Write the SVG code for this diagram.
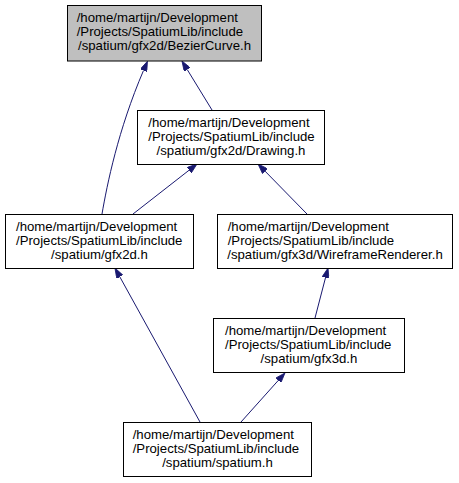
<svg xmlns="http://www.w3.org/2000/svg" width="459" height="483" viewBox="0 0 459 483">
<style>
.node rect{fill:#ffffff;stroke:#000000;stroke-width:1}
#bezier rect{fill:#bfbfbf}
text{font-family:"Liberation Sans",Arial,Helvetica,sans-serif;font-size:13.2px;fill:#000000}
.c{text-anchor:middle}
.edge{fill:none;stroke:#191970;stroke-width:1;marker-end:url(#arr)}
</style>
<defs>
<marker id="arr" viewBox="0 0 10 7" refX="0" refY="3.5" markerWidth="10" markerHeight="7" markerUnits="userSpaceOnUse" orient="auto">
<path d="M0,0 L10,3.5 L0,7 Z" fill="#191970" stroke="#191970" stroke-width="0.8"/>
</marker>
</defs>
<rect width="459" height="483" fill="#ffffff"/>
<g id="connectors">
<path class="edge" d="M102,214 C107,185 118,130 143.5,70.5"/>
<path class="edge" d="M212,110 L187.2,69.5"/>
<path class="edge" d="M133,214 L189.1,170.2"/>
<path class="edge" d="M307,214 L265,171.1"/>
<path class="edge" d="M315,318 L325.5,277.7"/>
<path class="edge" d="M241,422 L278.3,380.4"/>
<path class="edge" d="M200,422 L119.8,276.8"/>
</g>
<g id="bezier" class="node">
<rect x="67.5" y="5.5" width="194" height="55.5"/>
<text x="76.7" y="21.7">/home/martijn/Development</text>
<text x="76.7" y="35.7">/Projects/SpatiumLib/include</text>
<text class="c" x="164.5" y="49.8">/spatium/gfx2d/BezierCurve.h</text>
</g>
<g id="drawing" class="node">
<rect x="137.5" y="110.5" width="187" height="54"/>
<text x="148.3" y="126.7">/home/martijn/Development</text>
<text x="148.3" y="140.7">/Projects/SpatiumLib/include</text>
<text class="c" x="231" y="154.8">/spatium/gfx2d/Drawing.h</text>
</g>
<g id="gfx2d" class="node">
<rect x="5.5" y="214.5" width="188" height="54"/>
<text x="16" y="230.5">/home/martijn/Development</text>
<text x="16" y="244.5">/Projects/SpatiumLib/include</text>
<text class="c" x="99.5" y="258.5">/spatium/gfx2d.h</text>
</g>
<g id="wireframe" class="node">
<rect x="217.5" y="214.5" width="235" height="54"/>
<text x="227.7" y="230.5">/home/martijn/Development</text>
<text x="227.7" y="244.5">/Projects/SpatiumLib/include</text>
<text class="c" x="335" y="258.5">/spatium/gfx3d/WireframeRenderer.h</text>
</g>
<g id="gfx3d" class="node">
<rect x="213.5" y="318.5" width="191" height="54"/>
<text x="225" y="334.5">/home/martijn/Development</text>
<text x="225" y="348.5">/Projects/SpatiumLib/include</text>
<text class="c" x="309" y="362.5">/spatium/gfx3d.h</text>
</g>
<g id="spatium" class="node">
<rect x="123.5" y="422.5" width="188" height="54"/>
<text x="132.7" y="438.5">/home/martijn/Development</text>
<text x="132.7" y="452.5">/Projects/SpatiumLib/include</text>
<text class="c" x="217.5" y="466.5">/spatium/spatium.h</text>
</g>
</svg>
